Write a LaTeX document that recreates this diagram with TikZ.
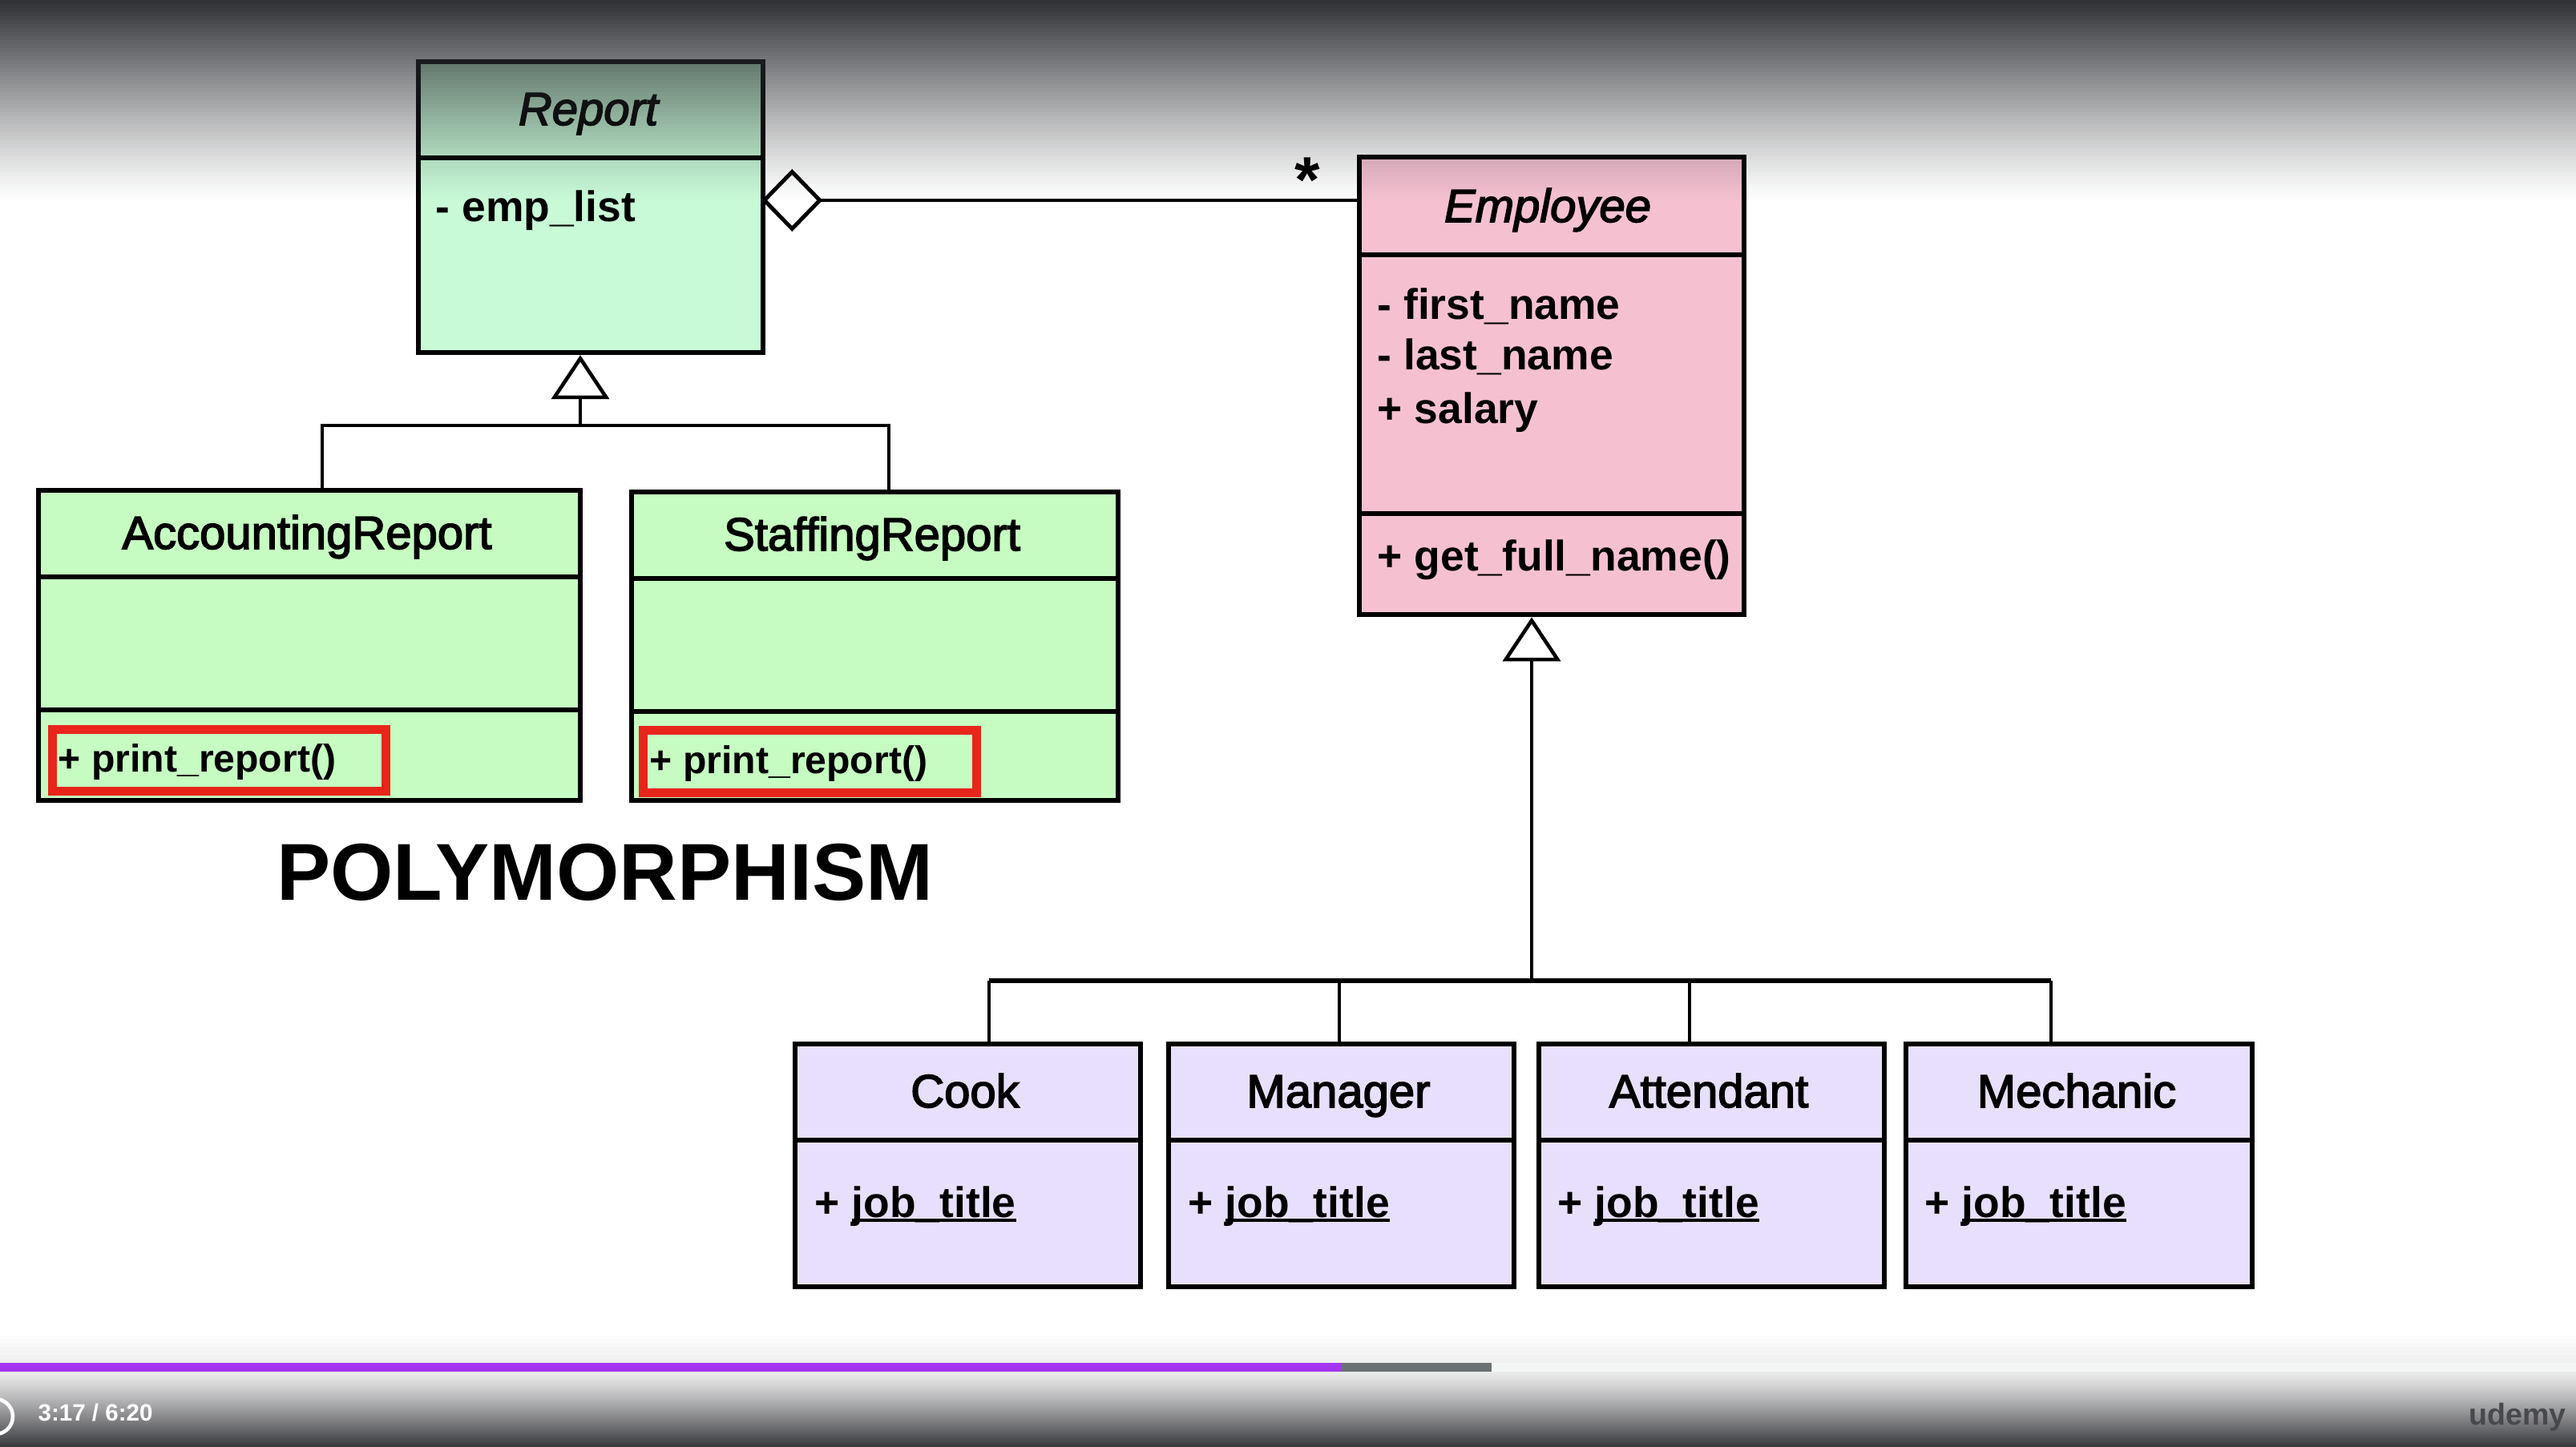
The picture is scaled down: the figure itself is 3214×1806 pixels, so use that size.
\documentclass[tikz,border=0pt]{standalone}
\usepackage{fontspec}
\setmainfont{Liberation Sans}
\usetikzlibrary{arrows.meta}
\definecolor{repgreen}{HTML}{C8FAD8}
\definecolor{subgreen}{HTML}{C6FCC2}
\definecolor{emppink}{HTML}{F5C1D1}
\definecolor{subpurple}{HTML}{E8DFFC}
\definecolor{hlred}{HTML}{E8251A}
\definecolor{topdark}{HTML}{2A2C30}
\definecolor{botdark}{HTML}{2E2F33}
\definecolor{barpurple}{HTML}{A535F0}
\definecolor{bargray}{HTML}{6B7073}
\definecolor{barlight}{HTML}{F4F6F6}
\definecolor{logogray}{HTML}{48494D}
\newcommand\ulx[1]{\setbox0=\hbox{#1}\rlap{\rule[-0.11em]{\wd0}{0.07em}}\box0}
\newcommand\medtxt[1]{\special{pdf:literal direct 2 Tr 0.45 w}#1\special{pdf:literal direct 0 Tr}}
\tikzset{
 umlbox/.style={draw=black, line width=1.7pt, anchor=north west, inner sep=0pt},
 divl/.style={line width=1.7pt},
 conn/.style={line width=1.3pt},
 barline/.style={line width=1.6pt},
 genarrow/.style={line width=1.3pt, -{Triangle[open, length=0.55cm, width=0.72cm]}},
 aggarrow/.style={line width=1.4pt, -{Diamond[open, length=0.76cm, width=0.78cm]}},
 clsname/.style={font=\fontsize{16.5}{19}\selectfont, anchor=base, inner sep=0pt},
 member/.style={font=\bfseries\fontsize{15.2}{18}\selectfont, anchor=base west, inner sep=0pt},
 hlmember/.style={font=\bfseries\fontsize{13.7}{16}\selectfont, anchor=base west, inner sep=0pt},
 hlbox/.style={draw=hlred, line width=3pt, anchor=north west, inner sep=0pt},
}
\begin{document}
\begin{tikzpicture}[x=0.01cm, y=-0.01cm]
\useasboundingbox (0,0) rectangle (3214,1806);
\fill[white] (0,0) rectangle (3214,1806);

% ---------- class boxes ----------
\node[umlbox, fill=repgreen, minimum width=4.30cm, minimum height=3.63cm] (report) at (519,74) {};
\draw[divl] ([yshift=-1.23cm]report.north west) -- ([yshift=-1.23cm]report.north east);

\node[umlbox, fill=emppink, minimum width=4.80cm, minimum height=5.71cm] (employee) at (1693,193) {};
\draw[divl] ([yshift=-1.25cm]employee.north west) -- ([yshift=-1.25cm]employee.north east);
\draw[divl] ([yshift=-4.48cm]employee.north west) -- ([yshift=-4.48cm]employee.north east);

\node[umlbox, fill=subgreen, minimum width=6.76cm, minimum height=3.87cm] (acc) at (45,609) {};
\draw[divl] ([yshift=-1.11cm]acc.north west) -- ([yshift=-1.11cm]acc.north east);
\draw[divl] ([yshift=-2.77cm]acc.north west) -- ([yshift=-2.77cm]acc.north east);

\node[umlbox, fill=subgreen, minimum width=6.07cm, minimum height=3.85cm] (staff) at (785,611) {};
\draw[divl] ([yshift=-1.11cm]staff.north west) -- ([yshift=-1.11cm]staff.north east);
\draw[divl] ([yshift=-2.77cm]staff.north west) -- ([yshift=-2.77cm]staff.north east);

\node[umlbox, fill=subpurple, minimum width=4.31cm, minimum height=3.03cm] (cook) at (989,1300) {};
\node[umlbox, fill=subpurple, minimum width=4.31cm, minimum height=3.03cm] (manager) at (1455,1300) {};
\node[umlbox, fill=subpurple, minimum width=4.31cm, minimum height=3.03cm] (attendant) at (1917,1300) {};
\node[umlbox, fill=subpurple, minimum width=4.32cm, minimum height=3.03cm] (mechanic) at (2375,1300) {};
\foreach \b in {cook,manager,attendant,mechanic}{
  \draw[divl] ([yshift=-1.23cm]\b.north west) -- ([yshift=-1.23cm]\b.north east);
}

% ---------- highlight boxes ----------
\node[hlbox, minimum width=4.16cm, minimum height=0.77cm] (accHL) at (60,905) {};
\node[hlbox, minimum width=4.16cm, minimum height=0.78cm] (staffHL) at (797,906) {};

% ---------- texts ----------
\node[clsname] (reportT) at (734,156) {\itshape\medtxt{Report}};
\node[member] (reportA) at (543,277) {- emp\_list};

\node[clsname] (employeeT) at (1931,277) {\itshape\medtxt{Employee}};
\node[member] (empA1) at (1718,398) {- first\_name};
\node[member] (empA2) at (1718,462) {- last\_name};
\node[member] (empA3) at (1718,528) {+ salary};
\node[member] (empM1) at (1718,712) {+ get\_full\_name()};

\node[clsname] (accT) at (383,685) {\medtxt{AccountingReport}};
\node[hlmember] (accM) at (72,963) {+ print\_report()};
\node[clsname] (staffT) at (1088,687) {\medtxt{StaffingReport}};
\node[hlmember] (staffM) at (810,965) {+ print\_report()};

\node[clsname] (cookT) at (1204,1382) {\medtxt{Cook}};
\node[clsname] (managerT) at (1670,1382) {\medtxt{Manager}};
\node[clsname] (attendantT) at (2132,1382) {\medtxt{Attendant}};
\node[clsname] (mechanicT) at (2591,1382) {\medtxt{Mechanic}};
\node[member] (cookA) at (1016,1519) {+ \ulx{job\_title}};
\node[member] (managerA) at (1482,1519) {+ \ulx{job\_title}};
\node[member] (attendantA) at (1943,1519) {+ \ulx{job\_title}};
\node[member] (mechanicA) at (2401,1519) {+ \ulx{job\_title}};

\node[font=\bfseries\fontsize{28.65}{32}\selectfont, anchor=base, inner sep=0pt] (poly) at (755,1123) {POLYMORPHISM};
\node[font=\bfseries\fontsize{23}{26}\selectfont, anchor=base, inner sep=0pt] (mult) at (1631,252) {*};

% ---------- connectors ----------
\coordinate (aggy) at (1300,250);
\draw[aggarrow] (employee.west |- aggy) -- ([xshift=-0.05cm]report.east |- aggy);

\coordinate (rbar) at (724,531);
\coordinate (adrop) at (402,531);
\coordinate (sdrop) at (1109,531);
\draw[genarrow] (rbar) -- (report.south -| rbar);
\draw[conn] (acc.north -| adrop) |- (rbar) -| (staff.north -| sdrop);

\coordinate (ebar) at (1911,1224);
\coordinate (d1) at (1234,1224);
\coordinate (d2) at (1671,1224);
\coordinate (d3) at (2108,1224);
\coordinate (d4) at (2559,1224);
\draw[genarrow] (ebar) -- (employee.south -| ebar);
\draw[barline] (d1) -- (d4);
\draw[conn] (cook.north -| d1) -- (d1);
\draw[conn] (manager.north -| d2) -- (d2);
\draw[conn] (attendant.north -| d3) -- (d3);
\draw[conn] (mechanic.north -| d4) -- (d4);

% ---------- video overlay (stacked strips) ----------
\foreach \i in {0,...,49}{
  \pgfmathsetmacro\op{0.97*(1-\i/50)^1.2}
  \fill[topdark, fill opacity=\op] (-20,{\i*5}) rectangle (3260,{\i*5+5});
}
\foreach \i in {0,...,7}{
  \pgfmathsetmacro\op{0.07*\i/8}
  \fill[black, fill opacity=\op] (-20,{1661+\i*5}) rectangle (3260,{1666+\i*5});
}
\fill[barlight] (0,1701) rectangle (3260,1712);
\fill[barpurple] (0,1701) rectangle (1673,1712);
\fill[bargray] (1673,1701) rectangle (1861,1712);
\foreach \i in {0,...,46}{
  \pgfmathsetmacro\op{0.10+0.85*(\i/46)^1.2}
  \fill[botdark, fill opacity=\op] (-20,{1712+\i*2}) rectangle (3260,{1714+\i*2});
}
\draw[white, line width=1.3pt] (-6,1768) circle [radius=22];
\node[text=white, font=\bfseries\fontsize{8.4}{10}\selectfont, anchor=base west, inner sep=0pt] (time) at (47,1773) {3:17 / 6:20};
\node[text=logogray, font=\bfseries\fontsize{10.7}{12}\selectfont, anchor=base, inner sep=0pt] (logo) at (3141,1778) {udemy};
\end{tikzpicture}
\end{document}
